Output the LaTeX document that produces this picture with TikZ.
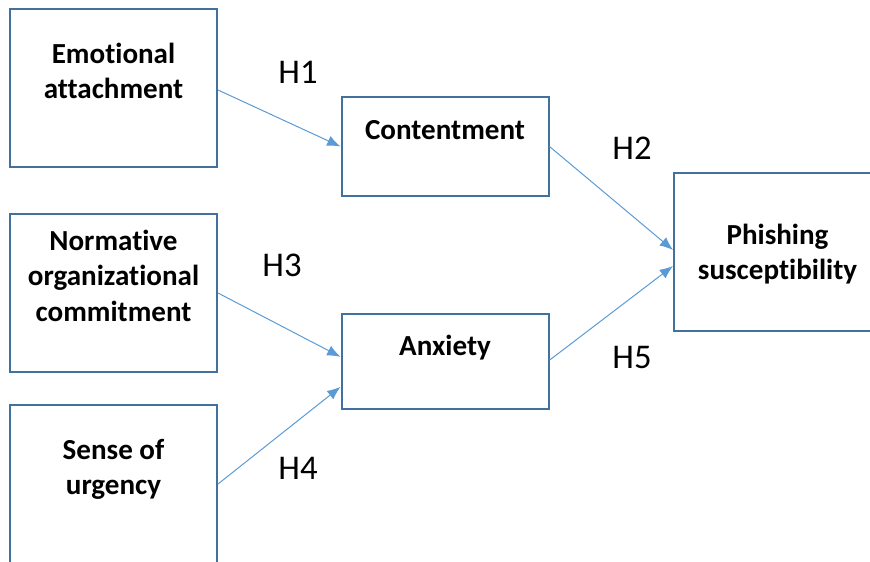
\documentclass[tikz,border=0pt]{standalone}
\usepackage{fontspec}
\setmainfont{Carlito}[Ligatures=NoCommon]
\usepackage{tikz}
\usetikzlibrary{calc,positioning,arrows.meta}

\definecolor{boxblue}{RGB}{65,113,156}
\definecolor{linkblue}{RGB}{91,155,213}

\tikzset{
  varbox/.style={draw=boxblue,line width=1.5pt,rectangle,inner sep=0pt,minimum width=155.25pt},
  vartext/.style={anchor=north,inner sep=0pt,align=center,font=\fontsize{21.8}{26.4}\selectfont\bfseries},
  hyp/.style={inner sep=0pt,font=\fontsize{26}{30}\selectfont},
  link/.style={draw=linkblue,line width=0.75pt,-{Latex[length=10pt,width=8pt]}}
}

\begin{document}
\begin{tikzpicture}[x=0.75pt,y=0.75pt,yscale=-1,xscale=1]
\useasboundingbox (0,0) rectangle (870,561);

%Shape: Rectangle
\node [varbox,minimum height=118.5pt] (ea) at (113.5,88) {};
\node [varbox,minimum height=74.25pt] (cont) at (445,146.5) {};
\node [varbox,minimum height=118.5pt] (noc) at (113.5,293) {};
\node [varbox,minimum height=71.25pt] (anx) at (445,361.5) {};
\node [varbox,minimum height=118.5pt] (sou) at (113.5,484) {};
\node [varbox,minimum height=118.5pt] (ps) at (777.5,252) {};

% Text Node
\node [vartext] (ea-t) at (113.5,43) {Emotional\\attachment};
\node [vartext] (cont-t) at (445,120) {Contentment};
\node [vartext] (noc-t) at (113.5,230) {Normative\\organizational\\commitment};
\node [vartext] (anx-t) at (445,335) {Anxiety};
\node [vartext] (sou-t) at (113.5,439) {Sense of\\urgency};
\node [vartext] (ps-t) at (777.5,224) {Phishing\\susceptibility};

% Hypothesis labels
\node [hyp] (h1) at (298,72) {H1};
\node [hyp] (h2) at (632,148) {H2};
\node [hyp] (h3) at (282,265) {H3};
\node [hyp] (h4) at (298,468) {H4};
\node [hyp] (h5) at (632,357) {H5};

% Links
\draw [link] ([yshift=1.5pt]ea.east) -- (cont.west);
\draw [link] (cont.east) -- ([yshift=-1.5pt]ps.west);
\draw [link] (noc.east) -- ([yshift=-3.5pt]anx.west);
\draw [link] (sou.east) -- ([yshift=19pt]anx.west);
\draw [link] ([yshift=-1pt]anx.east) -- ([yshift=10.5pt]ps.west);

\end{tikzpicture}
\end{document}
